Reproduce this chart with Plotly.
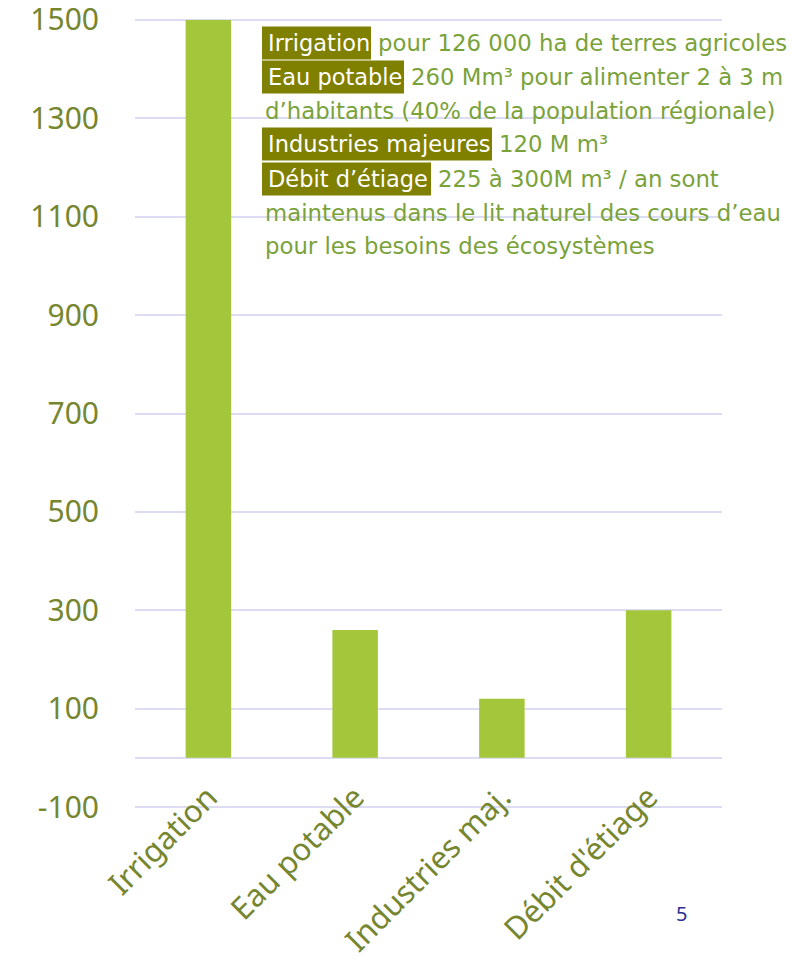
import plotly.graph_objects as go

categories = ["Irrigation", "Eau potable", "Industries maj.", "Débit d'étiage"]
values = [1500, 260, 120, 300]
y_ticks = [-100, 100, 300, 500, 700, 900, 1100, 1300, 1500]

# annotation text lines: highlighted label + rest of line
lines_hl = ["Irrigation", "Eau potable", "", "Industries majeures", "Débit d’étiage", "", ""]
lines_rest = [
    "pour 126 000 ha de terres agricoles",
    "260 Mm³ pour alimenter 2 à 3 m",
    "d’habitants (40% de la population régionale)",
    "120 M m³",
    "225 à 300M m³ / an sont",
    "maintenus dans le lit naturel des cours d’eau",
    "pour les besoins des écosystèmes",
]

W, H = 792, 965
D = 6  # small range padding (data units) so the 1500 gridline is kept
K = 787 / 1600
L, R, T, B = 135, 70, 20 - D * K, 158 - D * K
PW, PH = W - L - R, H - T - B

def px(x):
    return (x - L) / PW

def py(y):
    return (H - B - y) / PH

FONT = "Noto Sans"
TFONT = "DejaVu Sans"
BAR = "#a3c63a"
TICK = "#76862f"
TXT = "#7aa23a"
HL = "#808000"
GRID = "#dcdcf2"

fig = go.Figure()
fig.add_trace(go.Bar(x=categories, y=values, marker=dict(color=BAR, line=dict(width=0)), width=0.31))

annotations = []
shapes = []
line_y = [43, 77, 111, 144, 179, 213, 246]
x0 = 262
hl_end = {"Irrigation": 371, "Eau potable": 404, "Industries majeures": 492, "Débit d’étiage": 431}
for hl, rest, yy in zip(lines_hl, lines_rest, line_y):
    xr = x0 + 1
    if hl:
        shapes.append(dict(type="rect", xref="paper", yref="paper",
                           x0=px(x0), x1=px(hl_end[hl]), y0=py(yy - 16.5), y1=py(yy + 16.5),
                           fillcolor=HL, line=dict(width=0), layer="above"))
        annotations.append(dict(x=px(x0 + 4), y=py(yy), xref="paper", yref="paper", text=hl,
                                showarrow=False, xanchor="left", yanchor="middle",
                                font=dict(family=TFONT, size=22.5, color="white")))
        xr = hl_end[hl] + 5
    annotations.append(dict(x=px(xr), y=py(yy), xref="paper", yref="paper", text=rest,
                            showarrow=False, xanchor="left", yanchor="middle",
                            font=dict(family=TFONT, size=22.8, color=TXT)))

annotations.append(dict(x=px(681), y=py(913), xref="paper", yref="paper", text="5",
                        showarrow=False, xanchor="center", yanchor="middle",
                        font=dict(family=FONT, size=20, color="#2b2f8f")))

fig.update_layout(
    width=W, height=H,
    margin=dict(l=L, r=R, t=T, b=B, autoexpand=False),
    paper_bgcolor="white", plot_bgcolor="white",
    showlegend=False,
    bargap=0.69,
    annotations=annotations,
    shapes=shapes,
    xaxis=dict(tickangle=-45, tickfont=dict(family=FONT, size=31, color=TICK),
               showgrid=False, showline=False, ticks="", automargin=False,
               ticklabelstandoff=-38, ticklabeloverflow="allow"),
    yaxis=dict(range=[-100 - D, 1500 + D], tickvals=y_ticks, ticktext=[str(v) for v in y_ticks],
               tickfont=dict(family=FONT, size=30, color=TICK),
               showgrid=True, gridcolor=GRID, gridwidth=2,
               zeroline=True, zerolinecolor=GRID, zerolinewidth=2,
               showline=False, ticks="", ticklabelstandoff=35, automargin=False,
               ticklabeloverflow="allow"),
)

fig.write_html("out.html", post_script="document.body.style.margin='0';",
               config={"displayModeBar": False})
